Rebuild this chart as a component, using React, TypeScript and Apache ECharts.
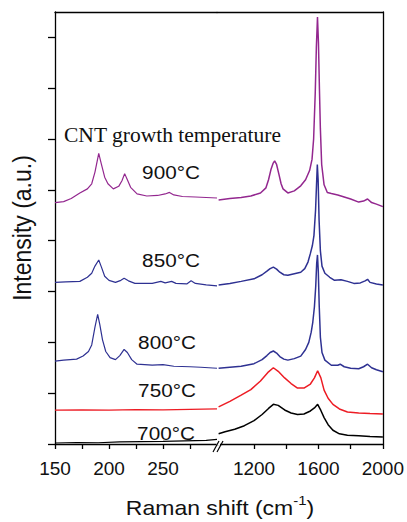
import React, { useEffect, useRef } from 'react';
import * as echarts from 'echarts';

// ---- Axis ticks / labels ----
const lowTicks = [150, 175, 200, 225, 250, 275];
const lowLabels = [150, 200, 250];
const highTicks = [1200, 1400, 1600, 1800, 2000];
const highLabels = [1200, 1600, 2000];
const yTicks = [0, 1, 2, 3, 4, 5, 6, 7, 8];

const tempLabels = ['700°C', '750°C', '800°C', '850°C', '900°C'];

// ---- Low-wavenumber (RBM) region, cm-1 / intensity ----
const rbmShift700 = [150, 170, 190, 210, 230, 250, 270, 290, 300];
const rbmInt700 = [0.02, 0.03, 0.025, 0.04, 0.045, 0.05, 0.06, 0.07, 0.09];

const rbmShift750 = [150, 175, 200, 225, 250, 275, 300];
const rbmInt750 = [0.665, 0.67, 0.665, 0.675, 0.67, 0.68, 0.69];

const rbmShift800 = [150, 158, 164, 170, 176, 181, 184, 187, 189.5, 191.5, 194, 197, 201, 206, 210, 214, 217, 221, 226, 240, 250, 260, 275, 285, 300];
const rbmInt800 = [1.63, 1.65, 1.66, 1.67, 1.73, 1.82, 1.95, 2.3, 2.55, 2.35, 2.05, 1.82, 1.7, 1.66, 1.74, 1.86, 1.8, 1.66, 1.57, 1.55, 1.56, 1.53, 1.52, 1.51, 1.49];

const rbmShift850 = [150, 160, 173, 180, 184, 187, 190.5, 193, 196, 200, 206, 211, 214, 218, 224, 240, 248, 252, 258, 262, 272, 276, 280, 290, 300];
const rbmInt850 = [3.18, 3.19, 3.2, 3.28, 3.36, 3.5, 3.62, 3.48, 3.3, 3.22, 3.18, 3.22, 3.26, 3.21, 3.16, 3.16, 3.2, 3.17, 3.2, 3.16, 3.15, 3.21, 3.16, 3.13, 3.11];

const rbmShift900 = [150, 158, 165, 173, 180, 184, 187, 190.5, 193, 196, 199, 204, 209, 212, 214.5, 217, 220, 226, 235, 245, 252, 256, 260, 268, 280, 290, 300];
const rbmInt900 = [4.75, 4.77, 4.83, 4.94, 5.02, 5.12, 5.35, 5.72, 5.5, 5.25, 5.12, 5.02, 5.07, 5.18, 5.32, 5.2, 5.05, 4.92, 4.88, 4.89, 4.92, 4.95, 4.9, 4.87, 4.86, 4.85, 4.84];

// ---- High-wavenumber (D / G) region ----
const dgShift700 = [980, 1020, 1080, 1140, 1200, 1250, 1290, 1320, 1350, 1390, 1430, 1470, 1510, 1550, 1575, 1595, 1615, 1635, 1660, 1690, 1730, 1780, 1850, 1920, 2000];
const dgInt700 = [0.2, 0.24, 0.29, 0.36, 0.46, 0.58, 0.7, 0.78, 0.76, 0.67, 0.61, 0.58, 0.59, 0.65, 0.71, 0.78, 0.66, 0.52, 0.38, 0.27, 0.2, 0.17, 0.16, 0.15, 0.14];

const dgShift750 = [980, 1050, 1120, 1180, 1240, 1290, 1320, 1350, 1390, 1430, 1470, 1510, 1550, 1575, 1595, 1615, 1635, 1660, 1690, 1730, 1780, 1850, 1920, 2000];
const dgInt750 = [0.73, 0.84, 0.96, 1.07, 1.24, 1.42, 1.5, 1.43, 1.3, 1.19, 1.1, 1.1, 1.18, 1.3, 1.44, 1.3, 1.06, 0.9, 0.78, 0.69, 0.63, 0.61, 0.6, 0.59];

const dgShift800 = [980, 1050, 1120, 1200, 1250, 1280, 1300, 1320, 1340, 1360, 1385, 1410, 1450, 1490, 1520, 1540, 1555, 1565, 1575, 1583, 1589, 1594, 1599, 1605, 1612, 1622, 1640, 1680, 1720, 1735, 1760, 1800, 1850, 1880, 1905, 1930, 1960, 2000];
const dgInt800 = [1.49, 1.51, 1.53, 1.58, 1.66, 1.74, 1.8, 1.83, 1.79, 1.72, 1.67, 1.65, 1.68, 1.73, 1.86, 2.0, 2.2, 2.4, 2.7, 3.1, 3.55, 3.72, 3.4, 2.7, 2.1, 1.8, 1.65, 1.55, 1.55, 1.57, 1.52, 1.49, 1.48, 1.52, 1.57, 1.5, 1.46, 1.42];

const dgShift850 = [980, 1050, 1120, 1200, 1250, 1280, 1300, 1320, 1340, 1360, 1385, 1410, 1450, 1490, 1515, 1535, 1550, 1562, 1572, 1582, 1588, 1593, 1598, 1604, 1612, 1622, 1640, 1670, 1700, 1740, 1780, 1820, 1860, 1890, 1905, 1920, 1960, 2000];
const dgInt850 = [3.13, 3.16, 3.2, 3.25, 3.33, 3.4, 3.45, 3.48, 3.44, 3.38, 3.33, 3.32, 3.35, 3.38, 3.45, 3.58, 3.75, 3.9, 4.1, 4.6, 5.1, 5.5, 5.2, 4.4, 3.8, 3.5, 3.36, 3.28, 3.22, 3.23, 3.2, 3.16, 3.17, 3.21, 3.24, 3.18, 3.15, 3.13];

const dgShift900 = [980, 1050, 1120, 1180, 1240, 1274, 1290, 1305, 1318, 1328, 1340, 1355, 1368, 1380, 1410, 1450, 1490, 1520, 1545, 1560, 1570, 1580, 1587, 1594, 1600, 1606, 1612, 1620, 1635, 1655, 1680, 1720, 1760, 1800, 1850, 1880, 1905, 1930, 1960, 2000];
const dgInt900 = [4.8, 4.83, 4.85, 4.88, 4.94, 5.04, 5.2, 5.4, 5.52, 5.57, 5.5, 5.3, 5.12, 5.02, 4.94, 4.98, 5.08, 5.2, 5.38, 5.6, 6.0, 6.9, 7.8, 8.4, 7.9, 7.0, 6.2, 5.5, 5.1, 4.95, 4.93, 4.9, 4.86, 4.82, 4.76, 4.78, 4.82, 4.75, 4.72, 4.67];

const lowSets = [
  [rbmShift700, rbmInt700],
  [rbmShift750, rbmInt750],
  [rbmShift800, rbmInt800],
  [rbmShift850, rbmInt850],
  [rbmShift900, rbmInt900],
];
const highSets = [
  [dgShift700, dgInt700],
  [dgShift750, dgInt750],
  [dgShift800, dgInt800],
  [dgShift850, dgInt850],
  [dgShift900, dgInt900],
];

const lineColors = ['#000000', '#ed1c24', '#2e3192', '#2e3192', '#93278f'];
const sans = '"Liberation Sans", Arial, Helvetica, sans-serif';
const serif = '"Liberation Serif", "Times New Roman", serif';

const zip = (xs: number[], ys: number[]) => xs.map((x, i) => [x, ys[i]]);

export default function App() {
  const ref = useRef<HTMLDivElement>(null);

  useEffect(() => {
    if (!ref.current) return;
    const chart = echarts.init(ref.current, undefined, { renderer: 'svg' });
    const axisLineStyle = { color: '#000', width: 1.3 };

    const series: any[] = [];
    tempLabels.forEach((name, i) => {
      series.push({
        name,
        type: 'line',
        xAxisIndex: 0,
        yAxisIndex: 0,
        data: zip(lowSets[i][0], lowSets[i][1]),
        showSymbol: false,
        lineStyle: { color: lineColors[i], width: 1.2 },
        itemStyle: { color: lineColors[i] },
        z: 2 + i,
      });
      series.push({
        name,
        type: 'line',
        xAxisIndex: 2,
        yAxisIndex: 1,
        data: zip(highSets[i][0], highSets[i][1]),
        showSymbol: false,
        lineStyle: { color: lineColors[i], width: 1.5 },
        itemStyle: { color: lineColors[i] },
        z: 2 + i,
      });
    });

    const labelPos = [
      [166, 433],
      [167, 390],
      [167, 342],
      [171, 260.5],
      [171, 172.5],
    ];

    const graphic: any[] = [
      // axis break gap and slashes
      { type: 'rect', z: 100, shape: { x: 216.5, y: 441.5, width: 3.5, height: 4 }, style: { fill: '#fff' } },
      { type: 'line', z: 101, shape: { x1: 213, y1: 452, x2: 219, y2: 441 }, style: { stroke: '#000', lineWidth: 1.2 } },
      { type: 'line', z: 101, shape: { x1: 217, y1: 452, x2: 223, y2: 441 }, style: { stroke: '#000', lineWidth: 1.2 } },
      {
        type: 'text', z: 100, x: 172.5, y: 135, scaleX: 1.05,
        style: { text: 'CNT growth temperature', fontFamily: serif, fontSize: 20.5, fill: '#111', textAlign: 'center', textVerticalAlign: 'middle' },
      },
      {
        type: 'text', z: 100, x: 22, y: 228, rotation: Math.PI / 2, scaleY: 1.12,
        style: { text: 'Intensity (a.u.)', fontFamily: sans, fontSize: 23, fill: '#111', textAlign: 'center', textVerticalAlign: 'middle' },
      },
      {
        type: 'text', z: 100, x: 220, y: 506, scaleX: 1.15,
        style: {
          text: '{n|Raman shift (cm}{s|-1}{n|)}',
          textAlign: 'center',
          textVerticalAlign: 'middle',
          rich: {
            n: { fontFamily: sans, fontSize: 20, fill: '#111', lineHeight: 24, verticalAlign: 'bottom' },
            s: { fontFamily: sans, fontSize: 13, fill: '#111', lineHeight: 24, verticalAlign: 'top' },
          },
        },
      },
    ];
    tempLabels.forEach((t, i) => {
      graphic.push({
        type: 'text', z: 100, x: labelPos[i][0], y: labelPos[i][1], scaleX: 1.12,
        style: { text: t, fontFamily: sans, fontSize: 18.5, fill: '#111', textAlign: 'center', textVerticalAlign: 'middle' },
      });
    });

    const hiddenAxisParts = { axisTick: { show: false }, axisLabel: { show: false }, splitLine: { show: false } };
    const plain = (v: number) => String(v);

    chart.setOption({
      animation: false,
      backgroundColor: '#fff',
      grid: [
        { left: 55, top: 12, width: 162, height: 432 },
        { left: 217, top: 12, width: 166, height: 432 },
      ],
      xAxis: [
        {
          gridIndex: 0, type: 'value', position: 'bottom', min: 150, max: 300,
          axisLine: { show: true, onZero: false, lineStyle: axisLineStyle },
          axisTick: { show: true, length: 5, customValues: lowTicks, lineStyle: axisLineStyle },
          axisLabel: { show: true, customValues: lowLabels, formatter: plain, fontFamily: sans, fontSize: 19, color: '#111', margin: 15 },
          splitLine: { show: false },
        },
        {
          gridIndex: 0, type: 'value', position: 'top', min: 150, max: 300,
          axisLine: { show: true, onZero: false, lineStyle: axisLineStyle },
          ...hiddenAxisParts,
        },
        {
          gridIndex: 1, type: 'value', position: 'bottom', min: 970, max: 2000,
          axisLine: { show: true, onZero: false, lineStyle: axisLineStyle },
          axisTick: { show: true, length: 5, customValues: highTicks, lineStyle: axisLineStyle },
          axisLabel: { show: true, customValues: highLabels, formatter: plain, fontFamily: sans, fontSize: 19, color: '#111', margin: 15 },
          splitLine: { show: false },
        },
        {
          gridIndex: 1, type: 'value', position: 'top', min: 970, max: 2000,
          axisLine: { show: true, onZero: false, lineStyle: axisLineStyle },
          ...hiddenAxisParts,
        },
      ],
      yAxis: [
        {
          gridIndex: 0, type: 'value', position: 'left', min: 0, max: 8.5,
          axisLine: { show: true, onZero: false, lineStyle: axisLineStyle },
          axisTick: { show: true, length: 7, customValues: yTicks, lineStyle: axisLineStyle },
          axisLabel: { show: false },
          splitLine: { show: false },
        },
        {
          gridIndex: 1, type: 'value', position: 'right', min: 0, max: 8.5,
          axisLine: { show: true, onZero: false, lineStyle: axisLineStyle },
          ...hiddenAxisParts,
        },
      ],
      series,
      graphic,
    });

    return () => chart.dispose();
  }, []);

  return (
    <div
      ref={ref}
      style={{ position: 'fixed', left: 0, top: 0, width: 407, height: 522, background: '#fff' }}
    />
  );
}
